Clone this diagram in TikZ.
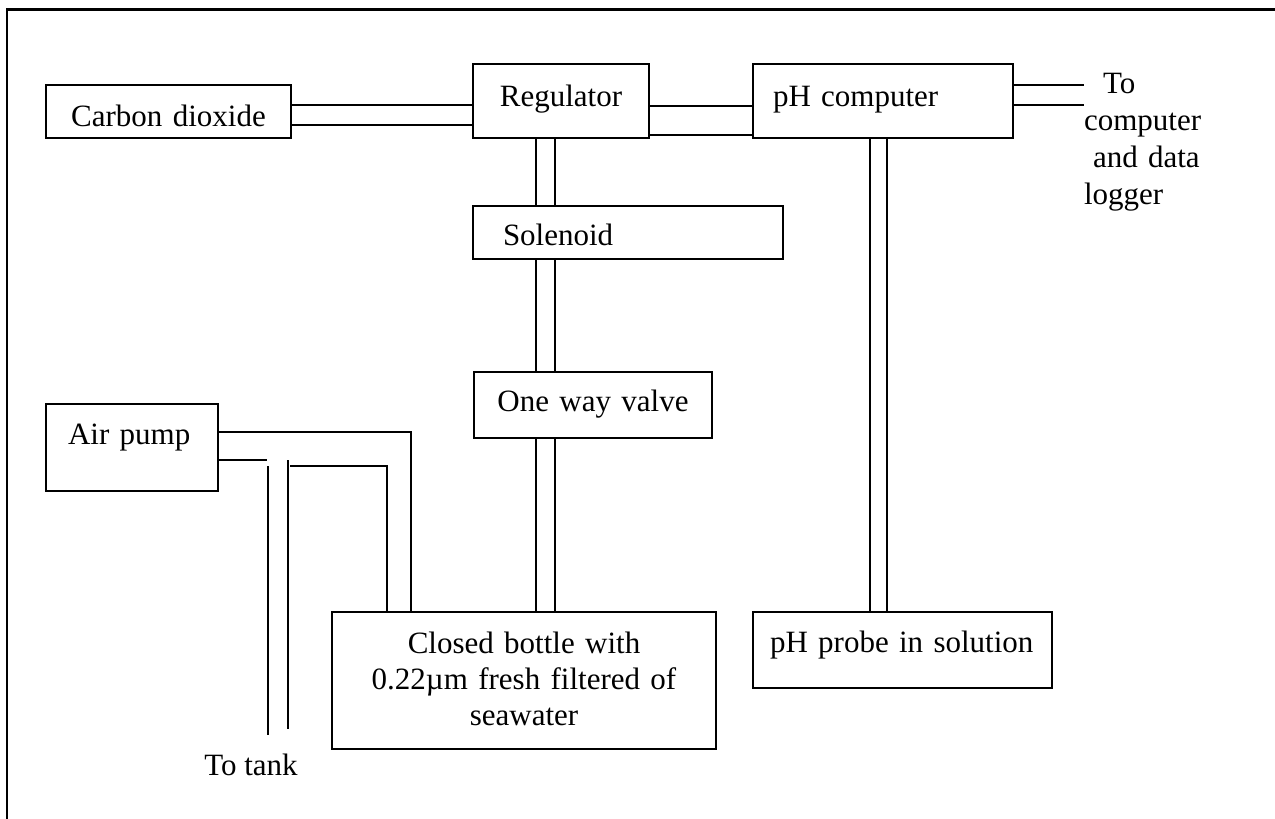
\documentclass[tikz,border=0pt]{standalone}
\usepackage{fontspec}
\setmainfont{Liberation Serif}
\newcommand{\partfont}{\fontsize{31}{37}\selectfont}
\tikzset{
  part/.style={draw, line width=2pt, inner sep=0pt, outer sep=0pt, anchor=north west, font=\partfont},
  pipe/.style={line width=2pt},
  caption/.style={inner sep=0pt, outer sep=0pt, font=\partfont}
}

\begin{document}
\begin{tikzpicture}[x=1pt,y=-1pt]
\useasboundingbox (0,0) rectangle (1275,819);
\draw[line width=2.5pt] (7,819) -- (7,9.5) -- (1275,9.5);
\node[part, text width=245pt, align=center, text height=41pt, text depth=12pt] (co2) at (46,85) {Carbon dioxide};
\node[part, text width=176pt, align=center, text height=42pt, text depth=32pt] (reg) at (473,64) {Regulator};
\node[part, inner xsep=20pt, text width=220pt, align=left, text height=42pt, text depth=32pt] (phc) at (753,64) {pH computer};
\node[part, inner xsep=30pt, text width=250pt, align=left, text height=39pt, text depth=14pt] (sol) at (473,206) {Solenoid};
\node[part, text width=238pt, align=center, text height=39pt, text depth=27pt] (valve) at (474,372) {One way valve};
\node[part, text width=384pt, align=center, text height=41pt, text depth=96pt, font={\fontsize{31}{36}\selectfont}] (bottle) at (332,612) {Closed bottle with\\0.22µm fresh filtered of\\seawater};
\node[part, inner xsep=17pt, text width=265pt, align=left, text height=40pt, text depth=36pt] (probe) at (753,612) {\mbox{pH probe in solution}};
\node[part, inner xsep=22pt, text width=128pt, align=left, text height=40pt, text depth=47pt] (pump) at (46,404) {Air pump};
\node[caption, text width=130pt, align=left, anchor=base west] (dest) at (1084,93) {\hspace*{19pt}To\\computer\\\hspace*{9pt}and data\\logger};
\node[caption, anchor=base] (tank) at (251,775) {To tank};

\draw[pipe] (co2.east |- 0,105) -- (reg.west |- 0,105);
\draw[pipe] (co2.east |- 0,125) -- (reg.west |- 0,125);
\draw[pipe] (reg.east |- 0,106) -- (phc.west |- 0,106);
\draw[pipe] (reg.east |- 0,135) -- (phc.west |- 0,135);
\draw[pipe] (phc.east |- 0,85) -- (dest.west |- 0,85);
\draw[pipe] (phc.east |- 0,105) -- (dest.west |- 0,105);
\draw[pipe] (reg.south -| 536,0) -- (sol.north -| 536,0);
\draw[pipe] (reg.south -| 555,0) -- (sol.north -| 555,0);
\draw[pipe] (sol.south -| 536,0) -- (valve.north -| 536,0);
\draw[pipe] (sol.south -| 555,0) -- (valve.north -| 555,0);
\draw[pipe] (valve.south -| 536,0) -- (bottle.north -| 536,0);
\draw[pipe] (valve.south -| 555,0) -- (bottle.north -| 555,0);
\draw[pipe] (phc.south -| 870,0) -- (probe.north -| 870,0);
\draw[pipe] (phc.south -| 887,0) -- (probe.north -| 887,0);
\draw[pipe] (pump.east |- 0,432) -| (bottle.north -| 411,0);
\draw[pipe] (pump.east |- 0,460) -- (267,460);
\draw[pipe] (268,466) -- (268,735);
\draw[pipe] (288,460) -- (288,729);
\draw[pipe] (290,466) -| (bottle.north -| 387,0);
\end{tikzpicture}
\end{document}
